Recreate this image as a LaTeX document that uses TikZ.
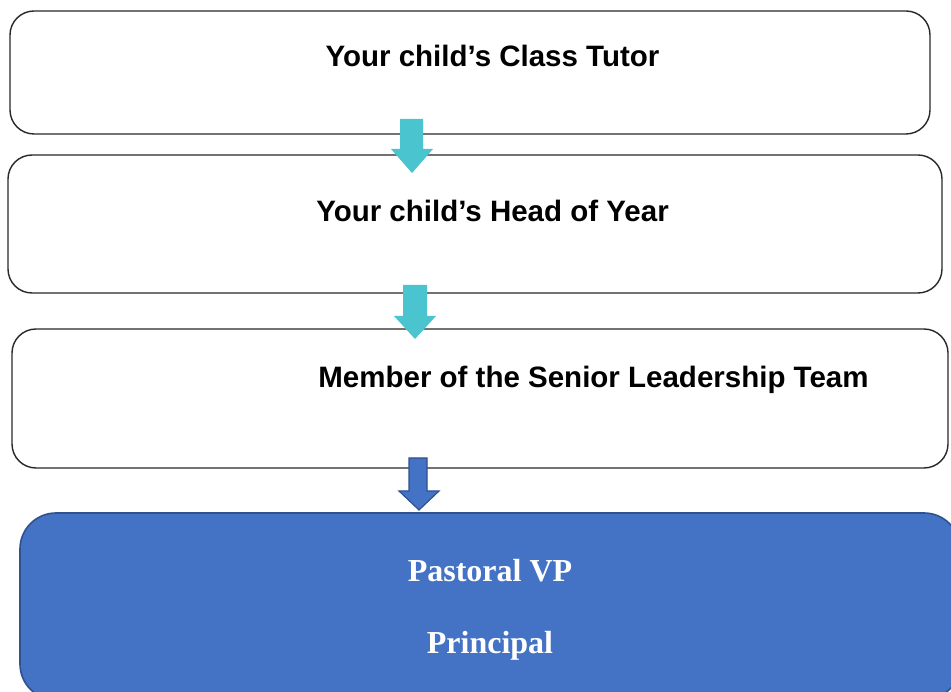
\documentclass[tikz,border=0pt]{standalone}
\usepackage{fontspec}
\setmainfont{Liberation Serif}
\setsansfont{Liberation Sans}
\definecolor{cyanarrow}{RGB}{74,196,206}
\definecolor{bluefill}{RGB}{68,114,196}
\definecolor{blueline}{RGB}{47,82,143}
\definecolor{boxline}{RGB}{40,40,40}
\tikzset{
  box/.style={draw=boxline, line width=1.4pt, rounded corners=24pt, fill=white, inner sep=0pt},
  bluebox/.style={draw=blueline, line width=1.6pt, fill=bluefill, rounded corners=36pt, inner sep=0pt},
  stagetext/.style={font=\sffamily\bfseries\fontsize{29.5}{34}\selectfont, anchor=base, inner sep=0pt},
  bluetext/.style={font=\rmfamily\bfseries\fontsize{32}{36}\selectfont, text=white, anchor=base, inner sep=0pt},
  cyanarrowstyle/.style={fill=cyanarrow, draw=none},
  bluearrowstyle/.style={fill=bluefill, draw=blueline, line width=1.2pt, line join=miter},
}
\begin{document}
\begin{tikzpicture}[x=1pt,y=-1pt]
\useasboundingbox (0,0) rectangle (951,692);
\clip (0,0) rectangle (951,692);
\fill[white] (0,0) rectangle (951,692);
% boxes
\node[box, minimum width=920pt, minimum height=123pt] (b1) at (470,72.5) {};
\node[box, minimum width=934pt, minimum height=138pt] (b2) at (475,224) {};
\node[box, minimum width=936pt, minimum height=139pt] (b3) at (480,398.5) {};
\node[bluebox, minimum width=940pt, minimum height=187pt] (b4) at (490,606.5) {};
% texts
\node[stagetext] (t1) at (492.5,66.5) {Your child’s Class Tutor};
\node[stagetext] (t2) at (492.5,222) {Your child’s Head of Year};
\node[stagetext] (t3) at (593.5,388) {Member of the Senior Leadership Team};
\node[bluetext] (t4) at (490,581) {Pastoral VP};
\node[bluetext] (t5) at (490,653) {Principal};
% arrows
\fill[cyanarrowstyle] (400,119) -- (423,119) -- (423,149) -- (433,149) -- (412,173) -- (391,149) -- (400,149) -- cycle;
\fill[cyanarrowstyle] (403,285) -- (427,285) -- (427,316) -- (436,316) -- (415,339) -- (394,316) -- (403,316) -- cycle;
\filldraw[bluearrowstyle] (409,458) -- (427,458) -- (427,491) -- (439,491) -- (419,510) -- (399,491) -- (409,491) -- cycle;
\end{tikzpicture}
\end{document}
